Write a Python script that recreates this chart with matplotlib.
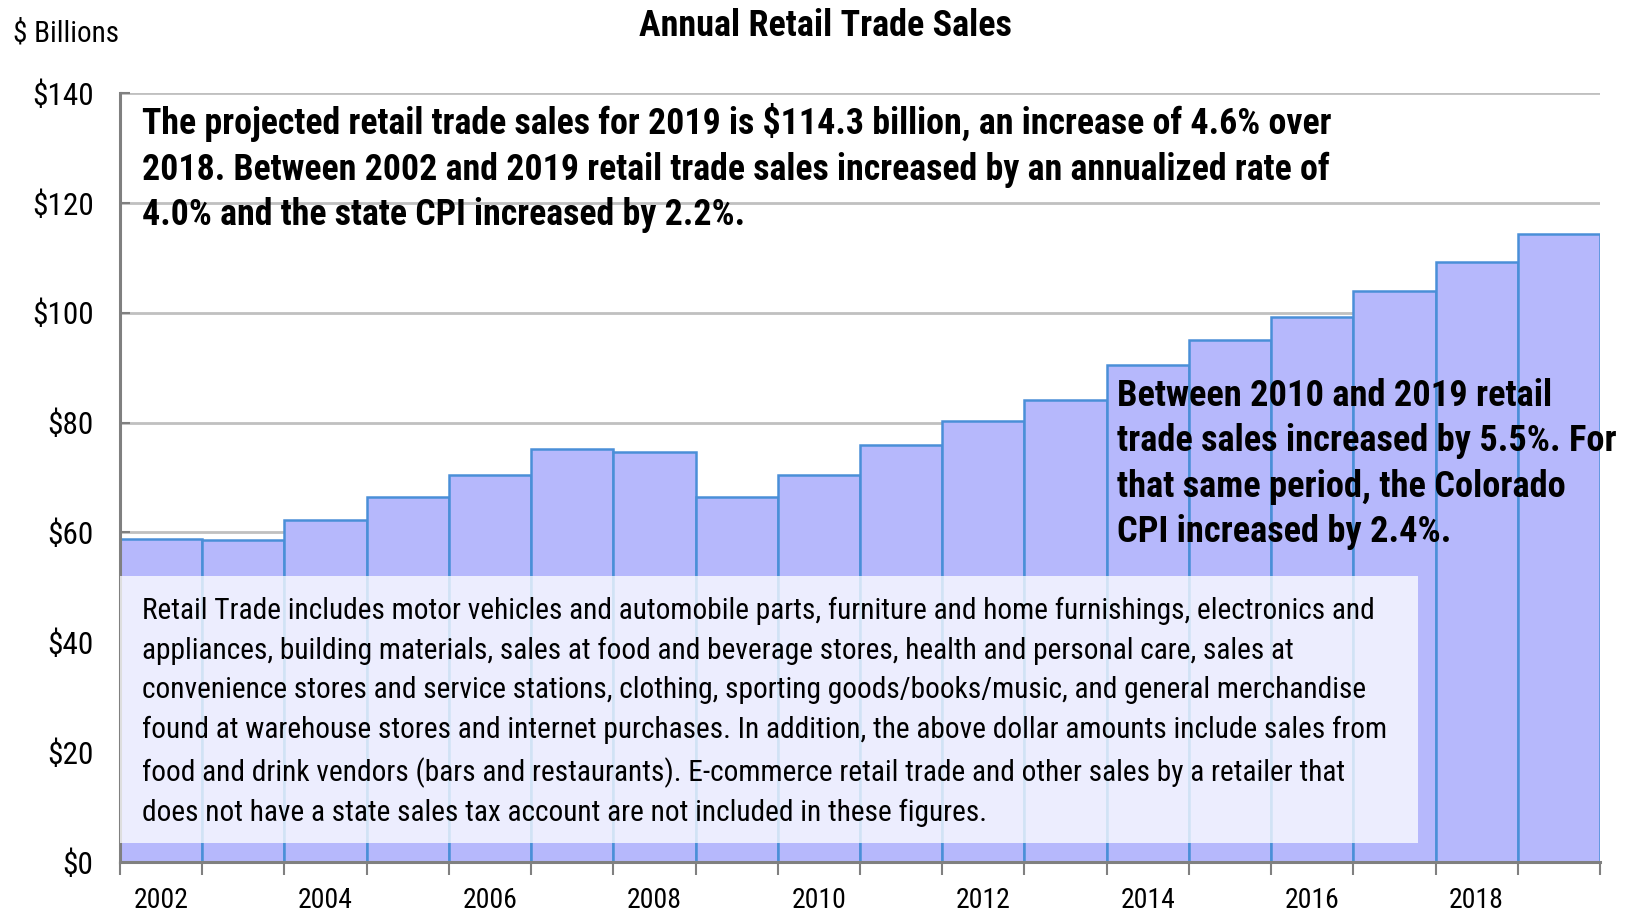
import numpy as np
import matplotlib
matplotlib.use("Agg")
from matplotlib import pyplot as plt

plt.rcParams["font.family"] = ["Roboto Condensed", "Liberation Sans", "DejaVu Sans"]

years = list(range(2002, 2020))
sales = [58.8, 58.6, 62.3, 66.4, 70.4, 75.2, 74.7, 66.4, 70.5, 75.9,
         80.2, 84.1, 90.5, 95.0, 99.2, 103.9, 109.3, 114.3]
year_labels = ["2002", "2004", "2006", "2008", "2010", "2012", "2014", "2016", "2018"]
y_ticks = [0, 20, 40, 60, 80, 100, 120, 140]

title = "Annual Retail Trade Sales"
note_top = ("The projected retail trade sales for 2019 is $114.3 billion, an increase of 4.6% over\n"
            "2018. Between 2002 and 2019 retail trade sales increased by an annualized rate of\n"
            "4.0% and the state CPI increased by 2.2%.")
note_right = ("Between 2010 and 2019 retail\n"
              "trade sales increased by 5.5%. For\n"
              "that same period, the Colorado\n"
              "CPI increased by 2.4%.")
note_box = ("Retail Trade includes motor vehicles and automobile parts, furniture and home furnishings, electronics and\n"
            "appliances, building materials, sales at food and beverage stores, health and personal care, sales at\n"
            "convenience stores and service stations, clothing, sporting goods/books/music, and general merchandise\n"
            "found at warehouse stores and internet purchases. In addition, the above dollar amounts include sales from\n"
            "food and drink vendors (bars and restaurants). E-commerce retail trade and other sales by a retailer that\n"
            "does not have a state sales tax account are not included in these figures.")

fig = plt.figure(figsize=(16.35, 9.11), dpi=100)
ax = fig.add_axes([120 / 1635, 1 - 862 / 911, 1480 / 1635, (862 - 93) / 911])

x = np.arange(len(years))
ax.bar(x, sales, width=1.0, color="#b6b8fc", edgecolor="#4a8fd8", linewidth=1.8, zorder=2)

ax.set_xlim(-0.5, len(years) - 0.5)
ax.set_ylim(0, 140)
ax.set_yticks(y_ticks)
ax.set_yticklabels(["$" + str(v) for v in y_ticks], fontsize=22.5)
ax.yaxis.grid(True, color="#c0c0c0", linewidth=2, zorder=0)
ax.set_axisbelow(True)

# tick marks at bar boundaries, labels centered under every other bar
ax.set_xticks(np.arange(-0.5, len(years), 1.0))
ax.set_xticklabels([])
ax.set_xticks(np.arange(0, len(years), 2), minor=True)
ax.set_xticklabels(year_labels, minor=True, fontsize=20)
ax.tick_params(axis="x", which="major", length=9, width=1.5, color="#808080", direction="out")
ax.tick_params(axis="x", which="minor", length=0, pad=18)
ax.tick_params(axis="y", length=7, width=1.5, color="#808080", direction="in", pad=19)

for side in ["top", "right"]:
    ax.spines[side].set_visible(False)
for side in ["left", "bottom"]:
    ax.spines[side].set_color("#808080")
    ax.spines[side].set_linewidth(2.2)
    ax.spines[side].set_zorder(3)

fig.text(825 / 1635, 1 - 26 / 911, title, ha="center", va="center",
         fontsize=26, fontweight="bold")
fig.text(13 / 1635, 1 - 33 / 911, "$ Billions", ha="left", va="center", fontsize=21)

fig.text(142 / 1635, 1 - 168 / 911, note_top, ha="left", va="center",
         fontsize=25.8, fontweight="bold", linespacing=1.34, zorder=5)
fig.text(1117 / 1635, 1 - 464 / 911, note_right, ha="left", va="center",
         fontsize=26.2, fontweight="bold", linespacing=1.34, zorder=5)

box = plt.Rectangle((120 / 1635, 1 - 843 / 911), (1418 - 120) / 1635, (843 - 576) / 911,
                    transform=fig.transFigure, facecolor="white", edgecolor="none",
                    alpha=0.75, zorder=4)
fig.add_artist(box)
fig.text(142 / 1635, 1 - 712 / 911, note_box, ha="left", va="center",
         fontsize=21.2, linespacing=1.53, zorder=5)

fig.savefig("out.png", dpi=100)
